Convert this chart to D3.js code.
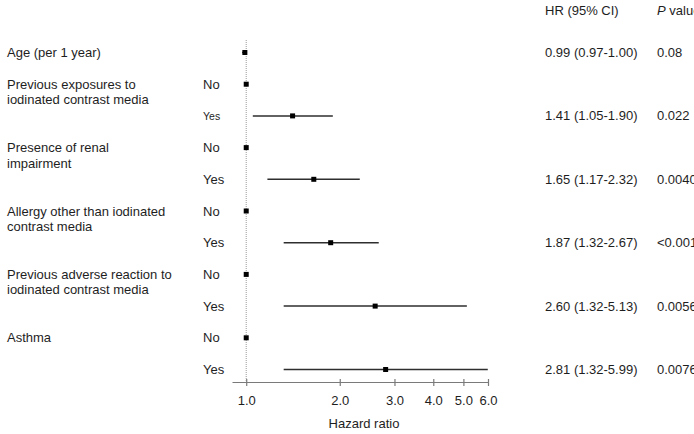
<!DOCTYPE html>
<html>
<head>
<meta charset="utf-8">
<script src="https://cdn.jsdelivr.net/npm/d3@7"></script>
<style>
  html, body { margin: 0; padding: 0; background: #fff; }
  svg { display: block; font-family: "Liberation Sans", Arial, sans-serif; }
  .lbl { font-size: 13px; fill: #1e1e1e; }
  .axis text { font-size: 13px; fill: #1e1e1e; font-family: "Liberation Sans", Arial, sans-serif; }
  .axis line, .axis path { stroke: #7a7a7a; }
</style>
</head>
<body>
<svg id="forest" width="694" height="434"></svg>
<script>
// ---- data ----------------------------------------------------------------
const rowIds = ['age', 'exp-no', 'exp-yes', 'ren-no', 'ren-yes', 'all-no', 'all-yes', 'adv-no', 'adv-yes', 'ast-no', 'ast-yes'];
const factorRow = ['age', 'exp-no', 'ren-no', 'all-no', 'adv-no', 'ast-no'];
const factorText = [
  ['Age (per 1 year)'],
  ['Previous exposures to', 'iodinated contrast media'],
  ['Presence of renal', 'impairment'],
  ['Allergy other than iodinated', 'contrast media'],
  ['Previous adverse reaction to', 'iodinated contrast media'],
  ['Asthma']
];
const levels = ['', 'No', 'Yes', 'No', 'Yes', 'No', 'Yes', 'No', 'Yes', 'No', 'Yes'];
const hr     = [0.99, 1, 1.41, 1, 1.65, 1, 1.87, 1, 2.60, 1, 2.81];
const ciLow  = [0.97, null, 1.05, null, 1.17, null, 1.32, null, 1.32, null, 1.32];
const ciHigh = [1.00, null, 1.90, null, 2.32, null, 2.67, null, 5.13, null, 5.99];
const hrText = ['0.99 (0.97-1.00)', '', '1.41 (1.05-1.90)', '', '1.65 (1.17-2.32)', '', '1.87 (1.32-2.67)', '', '2.60 (1.32-5.13)', '', '2.81 (1.32-5.99)'];
const pText  = ['0.08', '', '0.022', '', '0.0040', '', '<0.001', '', '0.0056', '', '0.0076'];
const xTicks = [1, 2, 3, 4, 5, 6];

// ---- layout --------------------------------------------------------------
const svg = d3.select('#forest');
const x = d3.scaleLog().domain([0.9, 6]).range([232, 488]);
const y = d3.scalePoint().domain(rowIds).range([52.5, 369.5]);
const axisY = 382;
const rows = rowIds.map((id, i) => ({ id, level: levels[i], hr: hr[i], lo: ciLow[i], hi: ciHigh[i], hrText: hrText[i], p: pText[i] }));

// dotted reference line at HR = 1
svg.append('line')
  .attr('x1', x(1)).attr('x2', x(1)).attr('y1', 40).attr('y2', axisY)
  .attr('stroke', '#9a9a9a').attr('stroke-width', 1).attr('stroke-dasharray', '1,1');

// x axis
const ax = svg.append('g').attr('class', 'axis').attr('transform', `translate(0,${axisY})`)
  .call(d3.axisBottom(x).tickValues(xTicks).tickFormat(d3.format('.1f')).tickSizeOuter(0).tickSizeInner(4).tickPadding(10));
ax.select('.domain').attr('stroke-width', 1.2);
ax.selectAll('.tick line').attr('y1', -3).attr('stroke-width', 1.2);

svg.append('text').attr('class', 'lbl')
  .attr('x', 364).attr('y', 428).attr('text-anchor', 'middle').text('Hazard ratio');

// column headers (P value runs past the right edge, as in the source)
svg.append('text').attr('class', 'lbl').attr('x', 545).attr('y', 15).text('HR (95% CI)');
const ph = svg.append('text').attr('class', 'lbl').attr('x', 657).attr('y', 15);
ph.append('tspan').attr('font-style', 'italic').text('P');
ph.append('tspan').text(' value');

// factor labels
factorRow.forEach((id, i) => {
  const t = svg.append('text').attr('class', 'lbl').attr('x', 7).attr('y', y(id) + 4.5);
  factorText[i].forEach((line, j) => {
    t.append('tspan').attr('x', 7).attr('dy', j === 0 ? 0 : 15.5).text(line);
  });
});

// level labels
svg.selectAll('.lvl').data(rows.filter(d => d.level)).enter().append('text')
  .attr('class', 'lbl lvl')
  .attr('x', 203).attr('y', d => y(d.id) + 4.5)
  .style('font-size', d => d.id === 'exp-yes' ? '10.5px' : '13px')
  .text(d => d.level);

// CI whiskers
svg.selectAll('.ci').data(rows.filter(d => d.lo != null)).enter().append('line')
  .attr('class', 'ci')
  .attr('x1', d => x(d.lo)).attr('x2', d => x(d.hi))
  .attr('y1', d => y(d.id)).attr('y2', d => y(d.id))
  .attr('stroke', '#2e2e2e').attr('stroke-width', 1.5);

// point estimates
svg.selectAll('.pt').data(rows).enter().append('rect')
  .attr('class', 'pt')
  .attr('x', d => x(d.hr) - 2.5).attr('y', d => y(d.id) - 2.5)
  .attr('width', 5).attr('height', 5)
  .attr('fill', '#000');

// HR and P columns
svg.selectAll('.hrt').data(rows.filter(d => d.hrText)).enter().append('text')
  .attr('class', 'lbl hrt').attr('x', 545).attr('y', d => y(d.id) + 4.5).text(d => d.hrText);
svg.selectAll('.pt-txt').data(rows.filter(d => d.p)).enter().append('text')
  .attr('class', 'lbl pt-txt').attr('x', 657).attr('y', d => y(d.id) + 4.5).text(d => d.p);
</script>
</body>
</html>
